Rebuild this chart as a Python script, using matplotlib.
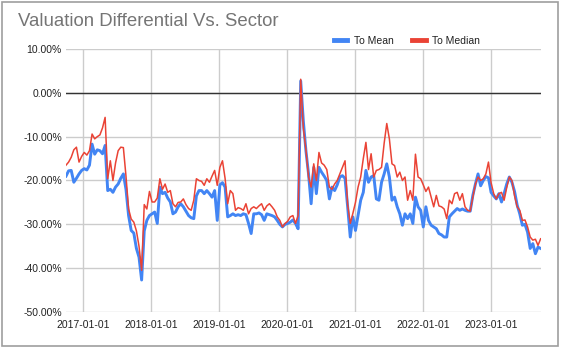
import matplotlib
matplotlib.use("Agg")
import matplotlib.pyplot as plt
import matplotlib.dates as mdates
from matplotlib.lines import Line2D
from matplotlib.patches import Rectangle
import pandas as pd

plt.rcParams["font.family"] = ["Liberation Sans", "DejaVu Sans"]

# biweekly readings, starting Oct 2016
start_date = "2016-10-01"
step = "14D"

to_median = [
    -16.5, -15.8, -14.7, -13.0, -12.4, -15.8, -14.5, -13.6, -14.2, -13.2,
    -9.4, -10.5, -10.0, -9.6, -8.0, -5.6, -19.6, -15.5, -20.0, -16.0,
    -13.2, -12.4, -12.5, -19.0, -26.5, -28.8, -29.5, -31.5, -35.0, -40.5,
    -25.5, -26.5, -22.5, -24.9, -24.9, -24.0, -19.6, -22.0, -20.8, -22.7,
    -22.3, -25.3, -26.0, -25.0, -24.9, -24.2, -25.5, -26.4, -26.8, -24.5,
    -19.6, -20.0, -20.2, -21.1, -19.6, -20.4, -19.0, -17.7, -21.1, -17.0,
    -15.5, -19.5, -25.3, -22.3, -23.0, -26.8, -26.2, -26.4, -26.8, -25.3,
    -27.6, -26.4, -26.0, -26.4, -25.8, -25.3, -26.8, -25.8, -25.3, -26.0,
    -26.8, -28.3, -29.1, -30.6, -29.8, -29.3, -28.3, -28.0, -29.8, -28.0,
    3.1, -8.0, -13.0, -19.2, -21.5, -16.2, -20.0, -13.6, -16.0, -16.5,
    -17.5, -21.5, -22.0, -20.8, -20.0, -18.5, -17.0, -15.5, -25.5, -29.8,
    -27.5, -25.0, -21.5, -19.2, -15.0, -11.3, -17.5, -13.9, -19.2, -17.7,
    -17.5, -17.0, -11.5, -7.0, -10.5, -16.2, -16.6, -19.2, -18.1, -20.0,
    -19.2, -24.5, -22.3, -24.5, -14.0, -19.2, -19.6, -21.0, -22.5, -21.5,
    -23.8, -26.0, -23.4, -25.8, -26.0, -26.5, -28.7, -24.5, -25.3, -23.0,
    -22.7, -24.5, -23.0, -26.0, -26.8, -27.0, -23.8, -20.8, -19.2, -20.0,
    -19.6, -18.5, -15.8, -20.5, -23.0, -24.2, -23.0, -22.7, -24.5, -21.6,
    -19.2, -20.0, -23.5, -26.0, -26.8, -29.1, -29.0, -30.6, -32.9, -33.6,
    -33.4, -34.8, -33.3,
]

to_mean = [
    -19.0, -17.8, -17.7, -20.4, -19.5, -18.5, -17.7, -17.3, -17.6, -16.5,
    -11.7, -14.0, -13.0, -13.2, -13.9, -12.0, -22.3, -22.0, -22.7, -21.5,
    -20.8, -19.5, -18.5, -22.0, -28.0, -31.4, -32.0, -35.5, -37.5, -42.7,
    -31.5, -29.1, -28.0, -27.6, -27.2, -29.8, -21.5, -23.0, -22.7, -24.0,
    -24.9, -27.6, -27.2, -26.0, -25.3, -26.0, -27.0, -28.0, -28.5, -28.7,
    -23.5, -22.3, -22.3, -23.0, -22.3, -23.0, -23.8, -22.3, -29.1, -21.0,
    -20.5, -21.5, -28.3, -28.0, -27.6, -28.0, -27.8, -28.0, -27.6, -27.8,
    -29.8, -32.1, -27.6, -27.6, -27.4, -27.8, -29.1, -27.6, -27.8, -28.0,
    -28.3, -29.1, -30.0, -30.6, -30.0, -29.8, -29.5, -29.0, -29.8, -31.0,
    2.7, -6.4, -13.2, -18.5, -25.3, -17.0, -23.0, -17.0, -18.1, -19.0,
    -20.0, -24.2, -21.5, -22.3, -21.0, -19.2, -18.9, -19.5, -26.0, -32.9,
    -28.3, -31.4, -28.0, -24.5, -22.7, -17.7, -20.4, -19.2, -18.9, -24.2,
    -24.5, -20.4, -18.5, -16.2, -19.2, -24.5, -23.8, -26.0, -27.6, -30.2,
    -27.6, -28.7, -27.6, -29.8, -23.8, -26.0, -26.8, -30.6, -26.0, -29.1,
    -30.2, -30.6, -31.0, -32.1, -32.4, -32.9, -32.9, -28.3, -27.6, -27.0,
    -26.4, -26.8, -26.5, -26.8, -27.0, -27.0, -23.4, -20.8, -18.5, -21.2,
    -20.0, -19.1, -19.4, -22.7, -23.5, -24.2, -23.0, -24.9, -23.0, -20.8,
    -19.2, -20.4, -22.5, -25.6, -27.6, -30.2, -30.0, -31.8, -35.5, -34.4,
    -36.7, -35.2, -35.5,
]

dates = pd.date_range(start_date, periods=len(to_mean), freq=step)
year_ticks = pd.to_datetime([f"{y}-01-01" for y in range(2017, 2024)])
y_ticks = [10, 0, -10, -20, -30, -40, -50]

BLUE = "#4285f4"
RED = "#ea4335"

fig = plt.figure(figsize=(5.62, 3.48), dpi=100)
ax = fig.add_axes([66/562, 1 - 312/348, 475/562, 263/348])

ax.plot(dates, to_mean, color=BLUE, lw=2.1, zorder=3, solid_joinstyle="round")
ax.plot(dates, to_median, color=RED, lw=1.1, zorder=4, solid_joinstyle="round")
ax.axhline(0, color="#333333", lw=1.0, zorder=2)

ax.set_xlim(pd.Timestamp("2016-10-01"), pd.Timestamp("2023-09-25"))
ax.set_ylim(-50, 10)
ax.set_xticks(year_ticks)
ax.xaxis.set_major_formatter(mdates.DateFormatter("%Y-%m-%d"))
ax.set_yticks(y_ticks)
ax.set_yticklabels([f"{v:.2f}%" for v in y_ticks])
ax.grid(True, color="#cccccc", lw=1.0, zorder=1)
ax.tick_params(length=0, labelsize=7.5, colors="#222222")
ax.tick_params(axis="y", pad=3)
ax.tick_params(axis="x", pad=5.5)
for s in ax.spines.values():
    s.set_visible(False)

handles = [Line2D([], [], color=BLUE, lw=3.5), Line2D([], [], color=RED, lw=3.5)]
ax.legend(handles, ["To Mean", "To Median"], loc="center right",
          bbox_to_anchor=(0.882, 1.032), ncol=2, frameon=False, fontsize=7.5,
          handlelength=1.3, handletextpad=0.6, columnspacing=1.8,
          borderpad=0, labelcolor="#222222")

fig.text(18/562, 1 - 21/348, "Valuation Differential Vs. Sector",
         fontsize=13.4, color="#757575", va="center", ha="left")

fig.patches.append(Rectangle((1.5/562, 2/348), 556.5/562, 344/348,
                             transform=fig.transFigure, fill=False,
                             edgecolor="#9e9e9e", lw=1.2))

fig.savefig("out.png", dpi=100, facecolor="white")
